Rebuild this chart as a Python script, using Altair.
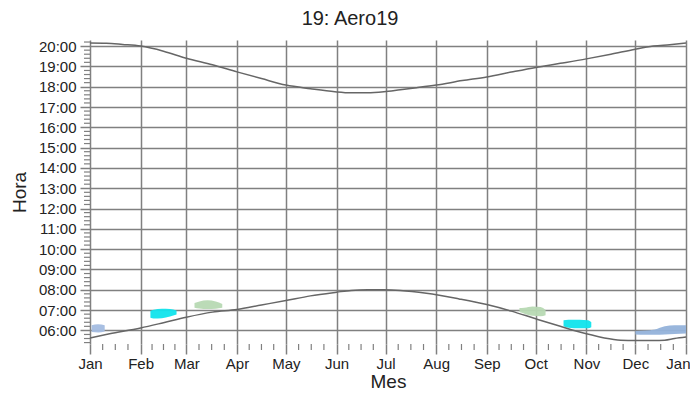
import altair as alt
import pandas as pd

# ---- data ----
month_labels = ["Jan", "Feb", "Mar", "Apr", "May", "Jun", "Jul", "Aug", "Sep", "Oct", "Nov", "Dec", "Jan"]
month_days = [0, 31, 59, 90, 120, 151, 181, 212, 243, 273, 304, 334, 365]
hour_ticks = [6, 7, 8, 9, 10, 11, 12, 13, 14, 15, 16, 17, 18, 19, 20]

sunset_days = [0, 10, 20, 31, 45, 59, 75, 90, 105, 120, 135, 150, 160, 170, 180, 190, 200, 212,
               228, 243, 258, 273, 288, 304, 319, 334, 345, 355, 365]
sunset_hours = [20.15, 20.14, 20.08, 20.0, 19.75, 19.4, 19.08, 18.73, 18.4, 18.08, 17.9, 17.75, 17.7,
                17.7, 17.75, 17.85, 17.95, 18.08, 18.3, 18.48, 18.72, 18.95, 19.15, 19.37, 19.6,
                19.85, 20.0, 20.07, 20.15]

sunrise_days = [0, 12, 31, 45, 59, 75, 90, 105, 120, 135, 151, 160, 170, 180, 190, 206, 226, 243,
                258, 273, 288, 304, 315, 325, 334, 345, 352, 358, 365]
sunrise_hours = [5.63, 5.83, 6.12, 6.38, 6.65, 6.9, 7.03, 7.25, 7.47, 7.7, 7.88, 7.97, 8.0, 8.0,
                 7.97, 7.83, 7.55, 7.27, 6.95, 6.57, 6.2, 5.83, 5.63, 5.52, 5.5, 5.5, 5.52, 5.6, 5.67]

# glare blobs: id, day, low hour, high hour
blob_ids = ["b1"] * 3 + ["b2"] * 5 + ["b3"] * 5 + ["b4"] * 5 + ["b5"] * 5 + ["b6"] * 6
blob_days = [1, 5, 9,
             37, 39, 44, 49, 53,
             64, 67, 72, 77, 81,
             263, 266, 271, 276, 279,
             290, 293, 300, 305, 307,
             334, 340, 346, 352, 358, 365]
blob_lo = [5.92, 5.9, 5.95,
           6.62, 6.58, 6.6, 6.68, 6.78,
           7.12, 7.08, 7.05, 7.07, 7.12,
           6.9, 6.82, 6.72, 6.7, 6.75,
           6.2, 6.13, 6.1, 6.1, 6.15,
           5.8, 5.78, 5.78, 5.8, 5.82, 5.85]
blob_hi = [6.25, 6.3, 6.25,
           6.95, 7.02, 7.06, 7.05, 6.98,
           7.35, 7.42, 7.48, 7.42, 7.3,
           7.1, 7.12, 7.18, 7.15, 7.0,
           6.5, 6.53, 6.52, 6.5, 6.4,
           5.97, 6.0, 6.05, 6.2, 6.25, 6.25]
blob_names = ["b1", "b2", "b3", "b4", "b5", "b6"]
blob_colors = ["#a3bce0", "#10e4ec", "#b7d9b3", "#b7d9b3", "#10e4ec", "#93b2da"]

x_minor = [m0 + (m1 - m0) * k / 4 for m0, m1 in zip(month_days[:-1], month_days[1:]) for k in (1, 2, 3)]
y_minor = [round(5.4 + 0.2 * i, 2) for i in range(75)
           if abs((5.4 + 0.2 * i) - round(5.4 + 0.2 * i)) > 0.01]

# ---- frames ----
curves = pd.concat([
    pd.DataFrame({"day": sunset_days, "hour": sunset_hours, "s": "sunset"}),
    pd.DataFrame({"day": sunrise_days, "hour": sunrise_hours, "s": "sunrise"}),
])
blobs = pd.DataFrame({"blob": blob_ids, "day": blob_days, "hour": blob_lo, "hi": blob_hi})
xm = pd.DataFrame({"day": x_minor})
ym = pd.DataFrame({"hour": y_minor})

FONT = "Liberation Sans"
GRID = "#808080"

xscale = alt.Scale(domain=[0, 365], nice=False, zero=False)
yscale = alt.Scale(domain=[5.33, 20.3], nice=False, zero=False)

label_expr_x = "[" + ",".join("'%s'" % m for m in month_labels) + "][indexof([" + \
    ",".join(str(d) for d in month_days) + "], datum.value)]"

xaxis = alt.Axis(title="Mes", values=month_days, labelExpr=label_expr_x, grid=True,
                 gridColor=GRID, gridWidth=1.5, gridOpacity=1, tickColor=GRID, tickWidth=1.5,
                 tickSize=10, labelPadding=2, domain=False, labelFlush=False,
                 labelAlign={"expr": "datum.value == 365 ? 'right' : 'center'"},
                 labelOffset={"expr": "datum.value == 365 ? 4 : 0"},
                 titleBaseline="alphabetic", titleY=43, titleFontSize=19)
yaxis = alt.Axis(title="Hora", values=hour_ticks,
                 labelExpr="(datum.value < 10 ? '0' : '') + datum.value + ':00'",
                 grid=True, gridColor=GRID, gridWidth=1.5, gridOpacity=1, tickColor=GRID,
                 tickWidth=1.5, tickSize=10, labelPadding=4, titlePadding=9, domain=False)

X = lambda f: alt.X(f, scale=xscale, axis=xaxis)
Y = lambda f: alt.Y(f, scale=yscale, axis=yaxis)

blob_layer = alt.Chart(blobs).mark_area(opacity=0.95, interpolate="monotone").encode(
    x=X("day:Q"),
    y=Y("hour:Q"),
    y2="hi:Q",
    color=alt.Color("blob:N", scale=alt.Scale(domain=blob_names, range=blob_colors), legend=None),
    detail="blob:N",
)

line_layer = alt.Chart(curves).mark_line(color="#666666", strokeWidth=1.5, interpolate="monotone").encode(
    x=X("day:Q"),
    y=Y("hour:Q"),
    detail="s:N",
)

xminor_layer = alt.Chart(xm).mark_rule(color=GRID, strokeWidth=1.2).encode(
    x=X("day:Q"),
    y=alt.value(304), y2=alt.value(310),
)
yminor_layer = alt.Chart(ym).mark_rule(color=GRID, strokeWidth=1.2).encode(
    y=Y("hour:Q"),
    x=alt.value(-6), x2=alt.value(0),
)

chart = alt.layer(blob_layer, line_layer, xminor_layer, yminor_layer).properties(
    width=596, height=304,
    title=alt.Title("19: Aero19", fontSize=20, font=FONT, fontWeight="normal", anchor="middle",
                    dx=-38, offset=10, color="#222222"),
    autosize=alt.AutoSizeParams(type="none"),
    padding={"left": 82, "top": 32, "right": 4, "bottom": 47},
).configure_view(stroke=None).configure_axis(
    labelFont=FONT, labelFontSize=15, labelColor="#222222",
    titleFont=FONT, titleFontSize=19, titleFontWeight="normal", titleColor="#222222",
)

chart.save("out.html", embed_options={"renderer": "svg", "actions": False})
